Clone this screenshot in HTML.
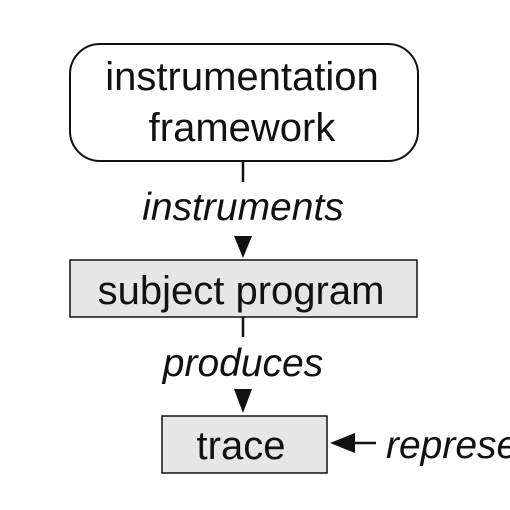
<!DOCTYPE html>
<html><head><style>html,body{margin:0;padding:0;background:#fff;}svg{display:block;}</style></head>
<body>
<svg width="510" height="510" viewBox="0 0 510 510" xmlns="http://www.w3.org/2000/svg" font-family="Liberation Sans, sans-serif" fill="#111">
<rect x="70" y="44" width="348" height="117" rx="30" ry="30" fill="#fff" stroke="#111" stroke-width="2"/>
<text x="242" y="90" font-size="40" text-anchor="middle">instrumentation</text>
<text x="242" y="141" font-size="40" text-anchor="middle">framework</text>
<line x1="243" y1="161" x2="243" y2="182" stroke="#111" stroke-width="2.5"/>
<text x="243" y="220" font-size="39" font-style="italic" text-anchor="middle">instruments</text>
<polygon points="234,236 252,236 243,258" fill="#111"/>
<rect x="70" y="260" width="347" height="57" fill="#e6e6e6" stroke="#111" stroke-width="1.5"/>
<text x="241" y="304" font-size="40" text-anchor="middle">subject program</text>
<line x1="243" y1="317" x2="243" y2="337" stroke="#111" stroke-width="2.5"/>
<text x="243" y="376" font-size="39" font-style="italic" text-anchor="middle">produces</text>
<polygon points="234,389 252,389 243,413" fill="#111"/>
<rect x="162" y="416" width="165" height="57" fill="#e6e6e6" stroke="#111" stroke-width="1.5"/>
<text x="241" y="459" font-size="40" text-anchor="middle">trace</text>
<polygon points="330,443 355,433 355,453" fill="#111"/>
<line x1="354" y1="443" x2="376" y2="443" stroke="#111" stroke-width="2.5"/>
<text x="386" y="458" font-size="39" font-style="italic">represents</text>
</svg>
</body></html>
